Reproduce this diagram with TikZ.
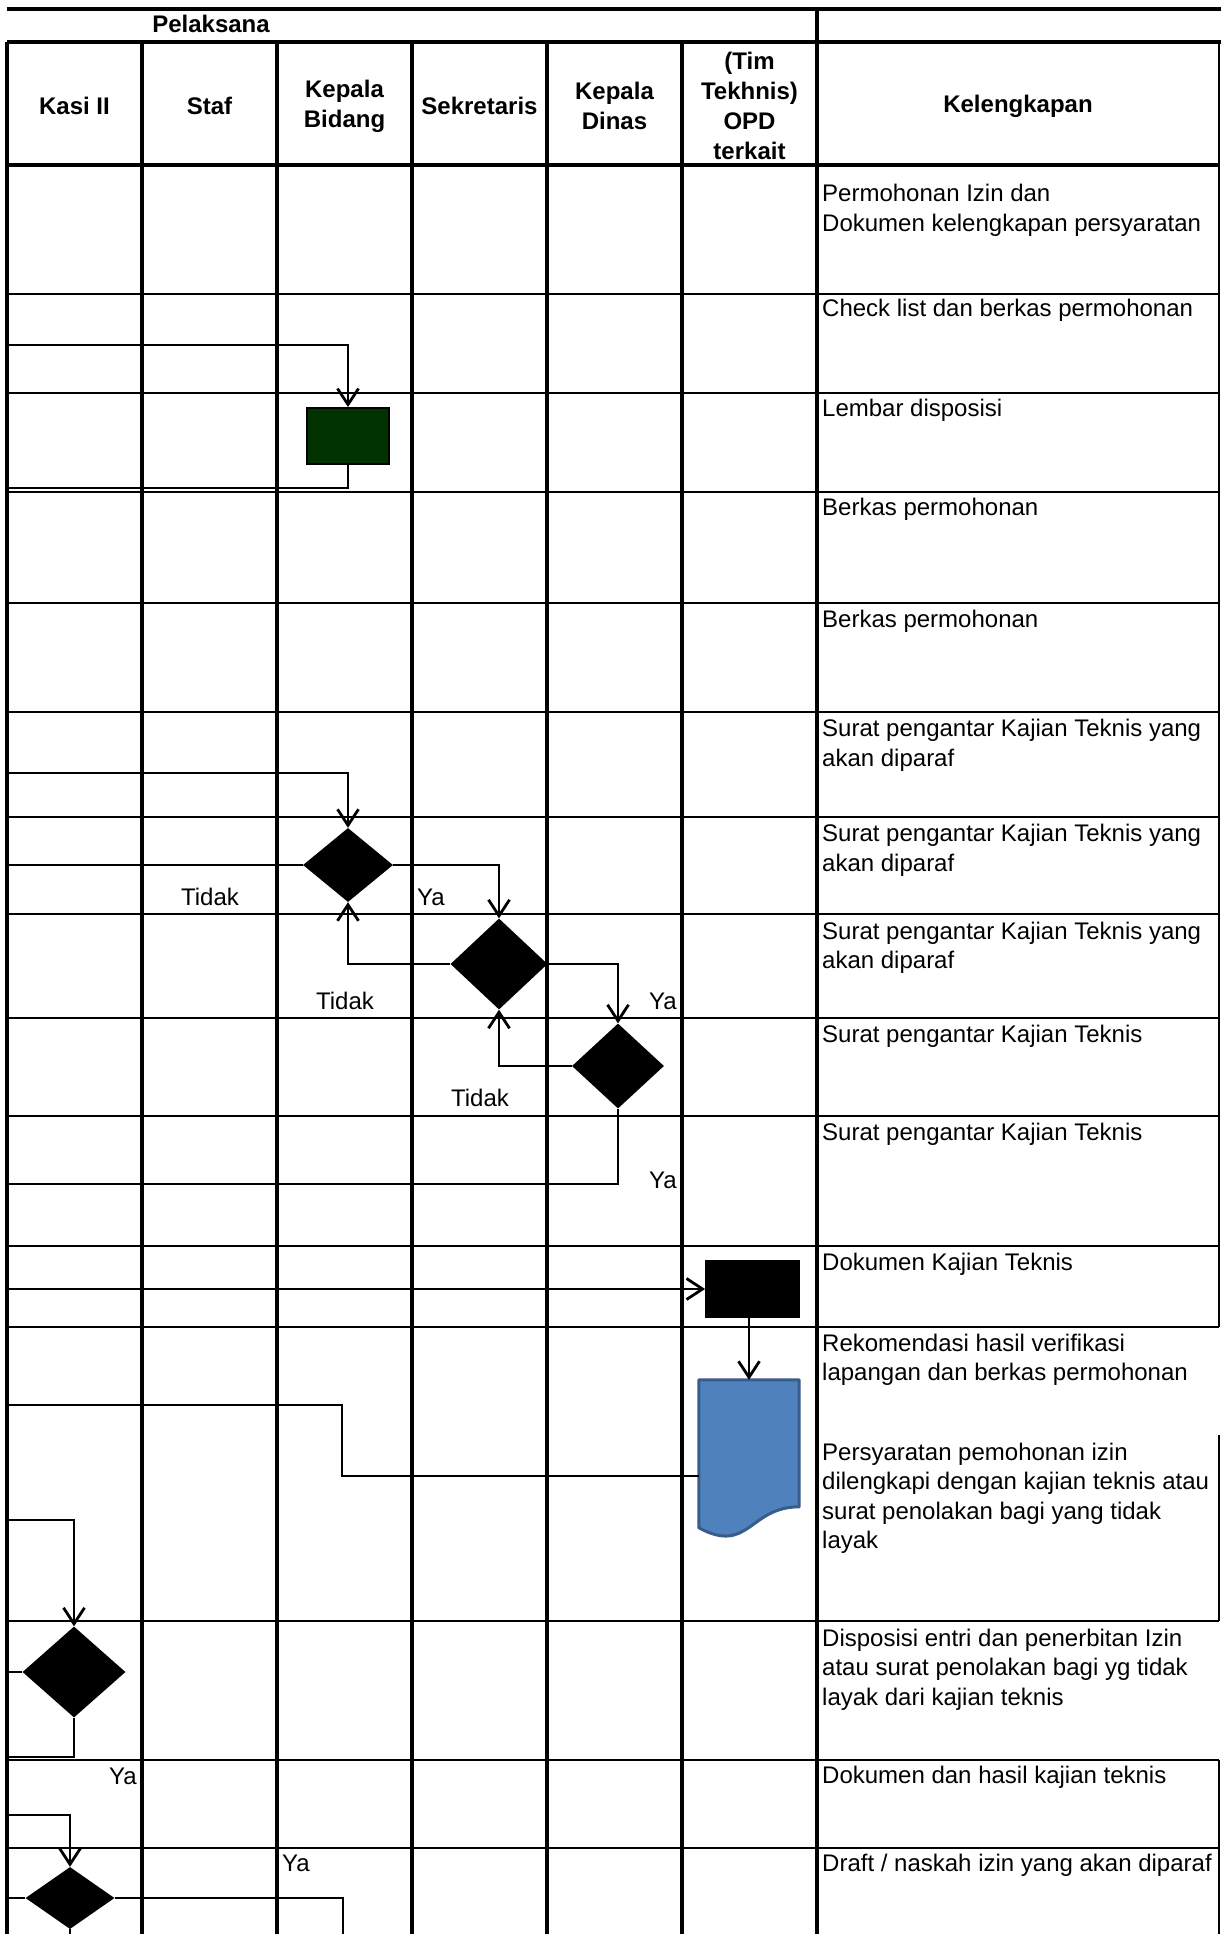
\documentclass[tikz,border=0pt]{standalone}
\usepackage{fontspec}
\setmainfont{Liberation Sans}
\usetikzlibrary{arrows.meta,shapes.geometric,calc}
\definecolor{kbgreen}{RGB}{0,51,0}
\definecolor{docblue}{RGB}{79,129,189}
\definecolor{docedge}{RGB}{56,93,138}
\begin{document}
\begin{tikzpicture}[x=1pt,y=-1pt,
  colline/.style={line width=3.3pt},
  rowline/.style={line width=1.5pt},
  headline/.style={line width=4pt},
  edgeline/.style={line width=2.4pt},
  conn/.style={line width=2.8pt},
  arr/.style={conn,-{Straight Barb[length=16pt,width=21pt]}},
  dec/.style={diamond,fill=black,draw=none,inner sep=0pt},
  proc/.style={rectangle,draw=black,line width=1.8pt,inner sep=0pt},
  hdr/.style={font=\fontsize{24}{30}\selectfont\bfseries,align=center,inner sep=0pt},
  lbl/.style={font=\fontsize{24}{29.6}\selectfont,inner sep=0pt},
  kel/.style={font=\fontsize{24}{29.6}\selectfont,align=left,anchor=north west,inner sep=0pt},
]
\useasboundingbox (0,0) rectangle (1221,1934);
\fill[white] (0,0) rectangle (1221,1934);

% ---------- grid ----------
\draw[headline] (7,9) -- (1221,9);
\draw[headline] (7,42) -- (1221,42);
\draw[headline] (7,165) -- (1219,165);
\foreach \yy in {294,393,492,603,712,817,914,1018,1116,1246,1327,1621,1760,1848}
  \draw[rowline] (7,\yy) -- (1219,\yy);
\foreach \xx in {7,142,277,412,547,682}
  \draw[colline] (\xx,42) -- (\xx,1934);
\draw[colline] (817,9) -- (817,1934);
\draw[edgeline] (1219,42) -- (1219,1327);
\draw[edgeline] (1219,1435) -- (1219,1621);
\draw[edgeline] (1219,1760) -- (1219,1934);

% ---------- header ----------
\node[hdr] (hpel) at (211,24) {Pelaksana};
\node[hdr] (hkasi) at (74.5,106) {Kasi II};
\node[hdr] (hstaf) at (209.5,106) {Staf};
\node[hdr] (hkabid) at (344.5,106) {Kepala\\Bidang};
\node[hdr] (hsek) at (479.5,106) {Sekretaris};
\node[hdr] (hkadin) at (614.5,106) {Kepala\\Dinas};
\node[hdr] (htim) at (749.5,106) {(Tim\\Tekhnis)\\OPD\\terkait};
\node[hdr] (hkel) at (1018,106) {Kelengkapan};

% ---------- shapes ----------
\node[proc,fill=kbgreen,minimum width=82pt,minimum height=56pt] (kb) at (348,436) {};
\node[dec,minimum width=90pt,minimum height=74pt] (dA) at (348,865) {};
\node[dec,minimum width=97pt,minimum height=91pt] (dB) at (499,964) {};
\node[dec,minimum width=92pt,minimum height=85pt] (dC) at (618,1066) {};
\node[proc,fill=black,minimum width=93pt,minimum height=56pt] (tt) at (752.5,1289) {};
\node[inner sep=0pt,minimum width=100pt,minimum height=158pt] (doc) at (749,1459) {};
\node[dec,minimum width=103pt,minimum height=91pt] (dD) at (74,1672) {};
\node[dec,minimum width=89pt,minimum height=62pt] (dE) at (70,1898) {};

\draw[fill=docblue,draw=docedge,line width=3pt,line join=round]
  (doc.north west) -- (doc.north east) -- ($(doc.north east)+(0,127)$)
  .. controls ($(doc.north)+(0,127)$) and ($(doc.north)+(0,175)$) ..
  ($(doc.north west)+(0,148)$) -- cycle;

% ---------- free ends ----------
\coordinate (e1) at (7,345);
\coordinate (e2) at (7,488);
\coordinate (e3) at (7,773);
\coordinate (e4) at (7,865);
\coordinate (e5) at (7,1184);
\coordinate (e6) at (7,1289);
\coordinate (e7) at (7,1405);
\coordinate (j1) at (342,1405);
\coordinate (j2) at (342,1476);
\coordinate (e8) at (7,1520);
\coordinate (e9) at (7,1672);
\coordinate (e10) at (7,1757);
\coordinate (e11) at (7,1815);
\coordinate (e12) at (7,1898);
\coordinate (e13) at (343,1934);
\coordinate (e14) at (70,1934);

% ---------- connectors ----------
\draw[arr] (e1) -| (kb.north);
\draw[conn] (kb.south) |- (e2);
\draw[arr] (e3) -| (dA.north);
\draw[conn] (e4) -- (dA.west);
\draw[arr] (dA.east) -| (dB.north);
\draw[arr] (dB.west) -| (dA.south);
\draw[arr] (dB.east) -| (dC.north);
\draw[arr] (dC.west) -| (dB.south);
\draw[conn] (dC.south) |- (e5);
\draw[arr] (e6) -- (tt.west);
\draw[arr] (doc.north |- tt.south) -- (doc.north);
\draw[conn] (e7) -- (j1) -- (j2) -- (j2 -| doc.west);
\draw[arr] (e8) -| (dD.north);
\draw[conn] (e9) -- (dD.west);
\draw[conn] (dD.south) |- (e10);
\draw[arr] (e11) -| (dE.north);
\draw[conn] (e12) -- (dE.west);
\draw[conn] (dE.east) -| (e13);
\draw[conn] (dE.south) -- (e14);

% ---------- branch labels ----------
\node[lbl] (t1) at (210,897) {Tidak};
\node[lbl] (y1) at (431,897) {Ya};
\node[lbl] (t2) at (345,1001) {Tidak};
\node[lbl] (y2) at (663,1001) {Ya};
\node[lbl] (t3) at (480,1098) {Tidak};
\node[lbl] (y3) at (663,1180) {Ya};
\node[lbl] (y4) at (123,1776) {Ya};
\node[lbl] (y5) at (296,1863) {Ya};

% ---------- Kelengkapan ----------
\node[kel] (k1) at (822,184.4) {Permohonan Izin dan\\Dokumen kelengkapan persyaratan};
\node[kel] (k2) at (822,299.4) {Check list dan berkas permohonan};
\node[kel] (k3) at (822,399.4) {Lembar disposisi};
\node[kel] (k4) at (822,498.4) {Berkas permohonan};
\node[kel] (k5) at (822,610.4) {Berkas permohonan};
\node[kel] (k6) at (822,719) {Surat pengantar Kajian Teknis yang\\akan diparaf};
\node[kel] (k7) at (822,824) {Surat pengantar Kajian Teknis yang\\akan diparaf};
\node[kel] (k8) at (822,921.4) {Surat pengantar Kajian Teknis yang\\akan diparaf};
\node[kel] (k9) at (822,1025) {Surat pengantar Kajian Teknis};
\node[kel] (k10) at (822,1122.4) {Surat pengantar Kajian Teknis};
\node[kel] (k11) at (822,1252.4) {Dokumen Kajian Teknis};
\node[kel] (k12) at (822,1333.4) {Rekomendasi hasil verifikasi\\lapangan dan berkas permohonan};
\node[kel] (k13) at (822,1442.4) {Persyaratan pemohonan izin\\dilengkapi dengan kajian teknis atau\\surat penolakan bagi yang tidak\\layak};
\node[kel] (k14) at (822,1628.4) {Disposisi entri dan penerbitan Izin\\atau surat penolakan bagi yg tidak\\layak dari kajian teknis};
\node[kel] (k15) at (822,1765.4) {Dokumen dan hasil kajian teknis};
\node[kel] (k16) at (822,1853.4) {Draft / naskah izin yang akan diparaf};
\end{tikzpicture}
\end{document}
